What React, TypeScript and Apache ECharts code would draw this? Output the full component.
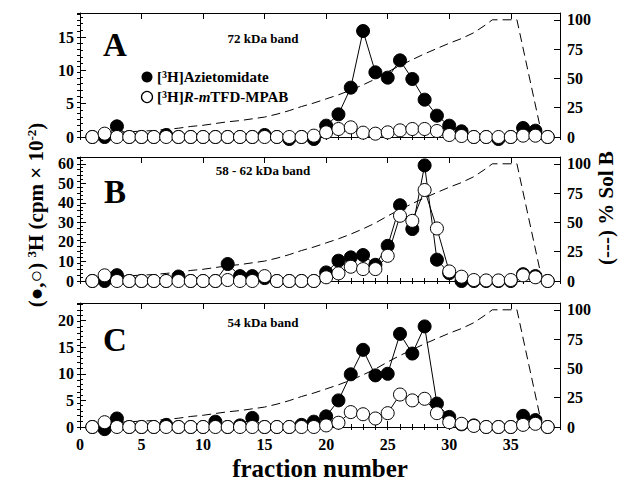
import React, { useEffect, useRef } from "react";
import * as echarts from "echarts";

// fraction numbers
const fractions = [1, 2, 3, 4, 5, 6, 7, 8, 9, 10, 11, 12, 13, 14, 15, 16, 17, 18, 19, 20, 21, 22, 23, 24, 25, 26, 27, 28, 29, 30, 31, 32, 33, 34, 35, 36, 37, 38];

// Panel A: 72 kDa band (cpm x 10^-2)
const azietomidateA = [0, 0, 1.6, 0, 0, 0, 0.3, 0, 0, 0, 0, 0, 0, 0, 0.3, 0, -0.3, 0, -0.3, 1.7, 3.4, 7.4, 15.9, 9.7, 8.9, 11.5, 8.7, 5.6, 3.2, 1.7, 0.85, 0, 0, -0.3, 0, 1.35, 0.95, 0];
const tfdA = [0, 0.5, 0, 0, 0, 0, 0, 0, 0, 0, 0, 0, 0, 0, 0, 0, 0, 0, 0.2, 0.7, 1.2, 1.45, 0.65, 0.5, 0.7, 1.0, 1.2, 1.2, 0.9, 0.3, 0.15, 0, 0, 0, 0, 0.2, 0.2, 0];

// Panel B: 58 - 62 kDa band
const azietomidateB = [0, 0, 3.0, 0, 0, 0, 0, 2.3, 0, 0, 0, 8.7, 2.5, 2.5, 1.5, 0, 0, 0, 0, 4.4, 10.4, 12.1, 13.3, 8.3, 18.0, 38.8, 26.6, 59.2, 10.9, 4.0, 0, 0, 0, 0, 0, 3.5, 2.5, 0];
const tfdB = [0, 2.9, 0, 0, 0, 0, 0, 0, 0, 0, 0, 0.5, 0, 0, 2.5, 0, 0, 0, 0, 1.9, 3.9, 7.3, 6.1, 6.1, 12.9, 33.4, 30.8, 46.6, 26.9, 4.9, 2.2, 0.5, 0.3, 0.3, 0.5, 2.9, 1.9, 0];

// Panel C: 54 kDa band
const azietomidateC = [0, -0.4, 1.6, 0, 0, 0, 0.4, 0, 0, 0, 1.0, 0, 0.3, 1.7, 0, 0, 0, 0.4, 1.0, 2.0, 5.0, 9.9, 14.5, 9.7, 10.0, 17.5, 13.8, 18.9, 4.4, 1.9, 0.5, 0.3, 0, 0, 0, 2.1, 1.3, 0];
const tfdC = [0, 0.9, 0, 0, 0, 0, 0, 0, 0, 0, 0, 0, 0, 0, 0, 0, 0, 0, 0, 0.3, 0.8, 2.8, 2.4, 1.6, 2.6, 6.1, 5.0, 5.3, 2.6, 0.9, 0.6, 0.2, 0, 0, 0, 0.4, 0.6, 0];

// Solvent B gradient (% Sol B)
const gradFraction = [2, 3, 4, 5, 6, 7, 8, 9, 10, 11, 12, 13, 14, 15, 16, 17, 18, 19, 20, 21, 22, 23, 24, 25, 26, 27, 28, 29, 30, 31, 32, 33, 33.5, 35.5, 37.5];
const gradPercent = [3, 4, 4.5, 5, 5.5, 6.5, 7.5, 9, 10, 11.5, 13, 14, 15.5, 17, 19.5, 22.5, 26, 29, 32.5, 36, 40, 44.5, 49.5, 55.5, 61, 66, 71, 75.5, 80, 84, 89, 96, 100, 100, 3];

const panelTitles = ["72 kDa band", "58 - 62 kDa band", "54 kDa band"];
const panelLetters = ["A", "B", "C"];
const leftMax = [18.6, 63.5, 23.3];
const leftInterval = [5, 10, 5];
const leftMinor = [1, 2, 1];
const rightMax = 105.8;
const rightTicks = [0, 25, 50, 75, 100];
const xMax = 39;

const FONT = "'Liberation Serif', 'Times New Roman', serif";
const BLACK = "#000";

export default function App() {
  const ref = useRef<HTMLDivElement>(null);

  useEffect(() => {
    if (!ref.current) return;
    const chart = echarts.init(ref.current, undefined, { renderer: "svg" });

    const gridTops = [13, 157, 303];
    const grids = gridTops.map((t) => ({ left: 80, width: 480, top: t, height: 124 }));

    const lineStyle = { color: BLACK, width: 1 };
    const xAxes: any[] = [];
    const yAxes: any[] = [];
    gridTops.forEach((_, gi) => {
      const showX = gi === 2;
      const base = { gridIndex: gi, type: "value", min: 0, max: xMax, splitLine: { show: false } };
      xAxes.push({
        ...base, position: "bottom", interval: 5,
        axisLine: { show: true, onZero: false, lineStyle },
        axisTick: { show: true, inside: true, length: 6, lineStyle },
        axisLabel: { show: showX, showMaxLabel: false, margin: 9, color: BLACK, fontFamily: FONT, fontWeight: "bold", fontSize: 16 },
      });
      xAxes.push({
        ...base, position: "bottom", interval: 1,
        axisLine: { show: false }, axisTick: { show: true, inside: true, length: 3, lineStyle }, axisLabel: { show: false },
      });
      xAxes.push({
        ...base, position: "top", interval: 5,
        axisLine: { show: true, onZero: false, lineStyle },
        axisTick: { show: true, inside: true, length: 6, lineStyle }, axisLabel: { show: false },
      });
      xAxes.push({
        ...base, position: "top", interval: 1,
        axisLine: { show: false }, axisTick: { show: true, inside: true, length: 3, lineStyle }, axisLabel: { show: false },
      });

      const yl = { gridIndex: gi, type: "value", min: 0, max: leftMax[gi], splitLine: { show: false } };
      yAxes.push({
        ...yl, position: "left", interval: leftInterval[gi],
        axisLine: { show: true, onZero: false, lineStyle },
        axisTick: { show: true, inside: true, length: 6, lineStyle },
        axisLabel: { showMaxLabel: false, margin: 6, color: BLACK, fontFamily: FONT, fontWeight: "bold", fontSize: 16 },
      });
      yAxes.push({
        ...yl, position: "left", interval: leftMinor[gi],
        axisLine: { show: false }, axisTick: { show: true, inside: true, length: 3, lineStyle }, axisLabel: { show: false },
      });
      const yr = { gridIndex: gi, type: "value", min: 0, max: rightMax, splitLine: { show: false } };
      yAxes.push({
        ...yr, position: "right", interval: 25,
        axisLine: { show: true, onZero: false, lineStyle },
        axisTick: { show: true, inside: true, length: 6, lineStyle },
        axisLabel: {
          showMaxLabel: false, margin: 7, color: BLACK, fontFamily: FONT, fontWeight: "bold", fontSize: 16,
          formatter: (v: number) => (rightTicks.includes(v) ? String(v) : ""),
        },
      });
      yAxes.push({
        ...yr, position: "right", interval: 5,
        axisLine: { show: false }, axisTick: { show: true, inside: true, length: 3, lineStyle }, axisLabel: { show: false },
      });
    });

    const filled = [azietomidateA, azietomidateB, azietomidateC];
    const open = [tfdA, tfdB, tfdC];
    const series: any[] = [];
    gridTops.forEach((_, gi) => {
      series.push({
        type: "line", xAxisIndex: gi * 4, yAxisIndex: gi * 4 + 2, silent: true, clip: false,
        data: gradFraction.map((f, i) => [f, gradPercent[i]]),
        symbol: "none", lineStyle: { color: BLACK, width: 1, type: [9, 5] },
      });
      series.push({
        type: "line", xAxisIndex: gi * 4, yAxisIndex: gi * 4, silent: true, clip: false,
        data: fractions.map((f, i) => [f, filled[gi][i]]),
        symbol: "circle", symbolSize: 13,
        itemStyle: { color: BLACK, borderColor: BLACK, borderWidth: 1 },
        lineStyle: { color: BLACK, width: 1 },
      });
      series.push({
        type: "line", xAxisIndex: gi * 4, yAxisIndex: gi * 4, silent: true, clip: false,
        data: fractions.map((f, i) => [f, open[gi][i]]),
        symbol: "circle", symbolSize: 13,
        itemStyle: { color: "#fff", borderColor: BLACK, borderWidth: 1 },
        lineStyle: { color: BLACK, width: 1 },
      });
    });

    const letterY = [45, 192, 340];
    const titleY = [38, 170, 322];
    const graphic: any[] = [];
    gridTops.forEach((_, gi) => {
      graphic.push({
        type: "text", x: 115, y: letterY[gi], silent: true,
        style: { text: panelLetters[gi], fill: BLACK, fontFamily: FONT, fontWeight: "bold", fontSize: 33, align: "center", verticalAlign: "middle" },
      });
      graphic.push({
        type: "text", x: 263, y: titleY[gi], silent: true,
        style: { text: panelTitles[gi], fill: BLACK, fontFamily: FONT, fontWeight: "bold", fontSize: 13, align: "center", verticalAlign: "middle" },
      });
    });
    const richBase = {
      sup: { fontSize: 10, fontWeight: "bold", fontFamily: FONT, verticalAlign: "top", fill: BLACK, lineHeight: 10 },
      it: { fontSize: 15, fontWeight: "bold", fontStyle: "italic", fontFamily: FONT, fill: BLACK },
    };
    graphic.push({ type: "circle", silent: true, shape: { cx: 147, cy: 77, r: 5.5 }, style: { fill: BLACK } });
    graphic.push({ type: "circle", silent: true, shape: { cx: 147, cy: 97, r: 5.5 }, style: { fill: "#fff", stroke: BLACK, lineWidth: 1.3 } });
    graphic.push({
      type: "text", x: 157, y: 77, silent: true,
      style: { text: "[{sup|3}H]Azietomidate", fill: BLACK, fontFamily: FONT, fontWeight: "bold", fontSize: 15, lineHeight: 16, align: "left", verticalAlign: "middle", rich: richBase },
    });
    graphic.push({
      type: "text", x: 157, y: 97, silent: true,
      style: { text: "[{sup|3}H]{it|R-m}TFD-MPAB", fill: BLACK, fontFamily: FONT, fontWeight: "bold", fontSize: 15, lineHeight: 16, align: "left", verticalAlign: "middle", rich: richBase },
    });
    graphic.push({
      type: "text", x: 36, y: 215, rotation: Math.PI / 2, silent: true,
      style: {
        text: "(●,○) {sup|3}H (cpm × 10{sup|-2})", fill: BLACK, fontFamily: FONT, fontWeight: "bold", fontSize: 21, lineHeight: 22,
        align: "center", verticalAlign: "middle",
        rich: { sup: { fontSize: 13, fontWeight: "bold", fontFamily: FONT, verticalAlign: "top", fill: BLACK, lineHeight: 13 } },
      },
    });
    graphic.push({
      type: "text", x: 606, y: 208, rotation: Math.PI / 2, silent: true,
      style: { text: "(---) % Sol B", fill: BLACK, fontFamily: FONT, fontWeight: "bold", fontSize: 21, align: "center", verticalAlign: "middle" },
    });
    graphic.push({
      type: "text", x: 320, y: 468, silent: true,
      style: { text: "fraction number", fill: BLACK, fontFamily: FONT, fontWeight: "bold", fontSize: 25, align: "center", verticalAlign: "middle" },
    });

    chart.setOption({
      animation: false,
      backgroundColor: "#fff",
      grid: grids,
      xAxis: xAxes,
      yAxis: yAxes,
      series,
      graphic,
    });
    return () => chart.dispose();
  }, []);

  return <div ref={ref} style={{ position: "absolute", left: 0, top: 0, width: 621, height: 481 }} />;
}
